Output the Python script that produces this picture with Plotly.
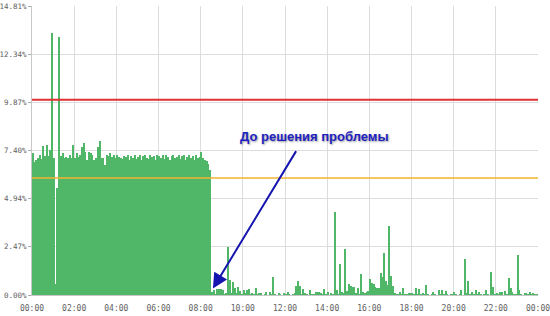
import plotly.graph_objects as go

# 5-minute bins over one day (values in %), 12 bins per hour row
values = [
    7.29, 6.83, 6.92, 7.00, 7.20, 6.95, 7.63, 7.10, 7.70, 7.10, 7.43, 13.44,   # 00
    7.00, 0.55, 5.50, 13.24, 7.10, 7.26, 7.00, 7.09, 7.00, 7.18, 7.00, 7.69,   # 01
    7.00, 7.26, 7.09, 7.20, 7.60, 7.77, 7.35, 6.92, 7.35, 7.26, 7.18, 6.92,    # 02
    7.00, 7.60, 7.87, 7.00, 7.00, 6.66, 7.18, 7.10, 7.26, 7.09, 7.15, 7.00,    # 03
    7.20, 7.09, 7.00, 6.95, 7.10, 7.05, 7.15, 6.90, 7.10, 7.00, 7.20, 6.95,    # 04
    7.05, 7.15, 6.90, 7.10, 7.20, 7.00, 6.95, 7.18, 7.05, 7.10, 6.92, 7.20,    # 05
    7.10, 7.00, 7.15, 6.95, 7.20, 7.05, 6.90, 7.10, 7.18, 7.00, 7.05, 7.15,    # 06
    6.95, 7.10, 7.20, 6.90, 7.05, 7.15, 7.00, 7.10, 6.92, 7.18, 7.00, 7.05,    # 07
    7.35, 7.00, 6.90, 6.85, 6.70, 6.40, 0.14, 0.26, 0.05, 0.30, 0.30, 0.30,    # 08
    0.28, 0.05, 0.10, 2.48, 0.77, 0.10, 0.65, 0.38, 0.10, 0.42, 0.18, 0.05,    # 09
    0.26, 0.10, 0.28, 0.30, 0.05, 0.10, 0.05, 0.34, 0.05, 0.10, 0.10, 0.00,    # 10
    0.05, 0.14, 0.00, 0.17, 0.05, 0.90, 0.05, 0.00, 0.09, 0.05, 0.00, 0.10,    # 11
    0.05, 0.17, 0.05, 0.00, 0.05, 0.10, 0.44, 0.70, 0.46, 0.05, 0.30, 0.10,    # 12
    0.05, 0.00, 0.24, 0.05, 0.05, 0.15, 0.17, 0.15, 0.10, 0.05, 0.29, 0.05,    # 13
    0.13, 0.00, 0.10, 0.05, 4.24, 0.26, 0.05, 1.57, 0.15, 0.10, 2.35, 0.18,    # 14
    0.55, 0.45, 0.43, 0.43, 0.10, 0.34, 0.05, 1.06, 0.17, 0.10, 0.15, 0.20,    # 15
    0.80, 0.60, 0.55, 0.43, 0.34, 0.36, 1.11, 0.92, 2.14, 0.72, 0.51, 3.55,    # 16
    0.99, 0.46, 0.10, 0.05, 0.05, 0.17, 0.05, 0.34, 0.05, 0.05, 0.12, 0.12,    # 17
    0.12, 0.05, 0.34, 0.05, 0.30, 0.05, 0.09, 0.05, 0.51, 0.05, 0.00, 0.05,    # 18
    0.17, 0.05, 0.00, 0.26, 0.05, 0.26, 0.05, 0.22, 0.05, 0.00, 0.05, 0.05,    # 19
    0.17, 0.05, 0.00, 0.05, 0.26, 0.00, 1.85, 0.10, 0.72, 0.05, 0.17, 0.05,    # 20
    0.26, 0.05, 0.17, 0.05, 0.00, 0.05, 0.26, 0.05, 0.00, 1.20, 0.39, 0.05,    # 21
    0.12, 0.05, 0.17, 0.17, 0.00, 0.20, 0.05, 0.89, 0.34, 0.17, 0.05, 0.05,    # 22
    2.05, 0.26, 0.05, 0.00, 0.09, 0.09, 0.05, 0.17, 0.05, 0.12, 0.05, 0.05,    # 23
]

y_tickvals = [0.0, 2.47, 4.94, 7.40, 9.87, 12.34, 14.81]
y_ticktext = ["0.00%", "2.47%", "4.94%", "7.40%", "9.87%", "12.34%", "14.81%"]
x_tickvals = [0, 2, 4, 6, 8, 10, 12, 14, 16, 18, 20, 22, 24]
x_ticktext = ["00:00", "02:00", "04:00", "06:00", "08:00", "10:00", "12:00",
              "14:00", "16:00", "18:00", "20:00", "22:00", "00:00"]
red_level = 10.0
orange_level = 6.0
annotation_text = "До решения проблемы"

bin_hours = 5 / 60
x_hours = [bin_hours * (i + 0.5) for i in range(len(values))]

fig = go.Figure()
fig.add_trace(go.Bar(
    x=x_hours, y=values,
    width=bin_hours * 0.72,
    marker=dict(color="#4fb767", line=dict(width=0)),
    hoverinfo="skip",
))

fig.add_shape(type="line", xref="paper", yref="y", x0=0, x1=1,
              y0=red_level, y1=red_level, line=dict(color="#e03030", width=2))
fig.add_shape(type="line", xref="paper", yref="y", x0=0, x1=1,
              y0=orange_level, y1=orange_level, line=dict(color="#f0b330", width=1.5))

# arrow
fig.add_annotation(
    x=8.58, y=0.33, ax=12.57, ay=7.45,
    xref="x", yref="y", axref="x", ayref="y",
    text="", showarrow=True, arrowhead=2, arrowsize=1.5, arrowwidth=2,
    arrowcolor="#1515b0",
)
# label
fig.add_annotation(
    x=13.42, y=8.1, xref="x", yref="y",
    text="<b>" + annotation_text + "</b>", showarrow=False,
    font=dict(family="Liberation Sans, Arial, sans-serif", size=13, color="#1e22c0",
              shadow="1px 1px 2px #9a9a9a"),
)

x_tick_font = dict(family="DejaVu Sans Mono, monospace", size=8, color="#606060")
y_tick_font = dict(family="DejaVu Sans Mono, monospace", size=7.5, color="#606060")

fig.update_layout(
    width=550, height=316,
    margin=dict(l=32, r=12, t=6, b=21),
    paper_bgcolor="white", plot_bgcolor="white",
    showlegend=False,
    bargap=0,
    xaxis=dict(
        range=[0, 24], automargin=False,
        tickvals=x_tickvals, ticktext=x_ticktext,
        showgrid=True, gridcolor="#dcdcdc", gridwidth=1,
        showline=True, linecolor="#c8c8c8", linewidth=1,
        ticks="outside", ticklen=5, tickcolor="rgba(0,0,0,0)",
        ticklabeloverflow="allow",
        tickfont=x_tick_font, zeroline=False,
    ),
    yaxis=dict(
        range=[0, 14.81], tickvals=y_tickvals, ticktext=y_ticktext, automargin=False,
        showgrid=True, gridcolor="#dcdcdc", gridwidth=1,
        showline=True, linecolor="#c8c8c8", linewidth=1,
        ticks="outside", ticklen=3, tickcolor="#aaaaaa",
        ticklabeloverflow="allow",
        tickfont=y_tick_font, zeroline=False,
    ),
)

fig.write_html("out.html")
